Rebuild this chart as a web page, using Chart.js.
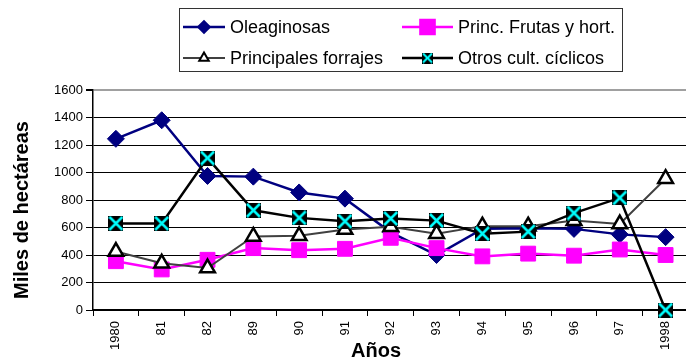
<!DOCTYPE html>
<html>
<head>
<meta charset="utf-8">
<script src="https://cdn.jsdelivr.net/npm/chart.js@4.4.1/dist/chart.umd.min.js"></script>
<style>
  html, body { margin: 0; padding: 0; background: #fff; overflow: hidden; }
  #wrap { width: 700px; height: 363px; }
</style>
</head>
<body>
<div id="wrap"><canvas id="chart" width="700" height="363"></canvas></div>
<script>
// ---- data ----
const years = ['1980', '81', '82', '89', '90', '91', '92', '93', '94', '95', '96', '97', '1998'];
const oleaginosas = [1245, 1380, 975, 970, 855, 810, 565, 400, 590, 595, 590, 550, 530];
const frutasHort = [355, 295, 365, 450, 435, 445, 525, 450, 390, 410, 395, 440, 400];
const forrajes = [425, 340, 305, 535, 540, 585, 605, 555, 610, 610, 650, 625, 955];
const otrosCiclicos = [630, 630, 1105, 725, 670, 645, 665, 650, 555, 570, 705, 815, 0];
const yTicks = [0, 200, 400, 600, 800, 1000, 1200, 1400, 1600];

const FONT = 'Arial, "Liberation Sans", sans-serif';

// black square with a cyan cross, like the Excel marker
function crossMarker(size) {
  const c = document.createElement('canvas');
  c.width = size; c.height = size;
  const g = c.getContext('2d');
  g.fillStyle = '#000';
  g.fillRect(0, 0, size, size);
  g.strokeStyle = '#00FFFF';
  g.lineWidth = size > 12 ? 2.5 : 2;
  g.beginPath();
  g.moveTo(1, 1); g.lineTo(size - 1, size - 1);
  g.moveTo(size - 1, 1); g.lineTo(1, size - 1);
  g.stroke();
  return c;
}
const bigCross = crossMarker(15);
const smallCross = crossMarker(11);

const series = [
  { label: 'Oleaginosas', data: oleaginosas, borderColor: '#000080', backgroundColor: '#000080',
    pointStyle: 'rectRot', pointRadius: 8.5, borderWidth: 2.5, pointBorderWidth: 1, order: 3,
    legend: { pointStyle: 'rectRot', radius: 5.5, col: 0, row: 0 } },
  { label: 'Princ. Frutas y hort.', data: frutasHort, borderColor: '#FF00FF', backgroundColor: '#FF00FF',
    pointStyle: 'rect', pointRadius: 10.5, borderWidth: 2.5, pointBorderWidth: 1, order: 2,
    legend: { pointStyle: 'rect', radius: 10, col: 1, row: 0 } },
  { label: 'Principales forrajes', data: forrajes, borderColor: '#404040', backgroundColor: '#fff',
    pointStyle: 'triangle', pointRadius: 8.5, borderWidth: 2, pointBorderColor: '#000', pointBorderWidth: 2.5, order: 1,
    legend: { pointStyle: 'triangle', radius: 5.5, col: 0, row: 1 } },
  { label: 'Otros cult. cíclicos', data: otrosCiclicos, borderColor: '#000', backgroundColor: '#000',
    pointStyle: bigCross, pointRadius: 8, borderWidth: 2.5, order: 0,
    legend: { pointStyle: smallCross, radius: 6, col: 1, row: 1 } }
];

// legend box + axis titles drawn on the canvas
const decorPlugin = {
  id: 'decor',
  afterDraw(chart) {
    const ctx = chart.ctx;
    ctx.save();
    // legend
    ctx.fillStyle = '#fff';
    ctx.fillRect(179, 8, 444, 64);
    ctx.strokeStyle = '#333';
    ctx.lineWidth = 1;
    ctx.strokeRect(179.5, 8.5, 443, 63);
    const cols = [{ x0: 183, x1: 225, text: 230 }, { x0: 402, x1: 453, text: 458 }];
    const rows = [27, 58];
    ctx.font = '18px ' + FONT;
    ctx.textBaseline = 'middle';
    ctx.textAlign = 'left';
    chart.data.datasets.forEach(ds => {
      const c = cols[ds.legend.col], y = rows[ds.legend.row];
      ctx.strokeStyle = ds.borderColor;
      ctx.lineWidth = ds.borderWidth;
      ctx.beginPath();
      ctx.moveTo(c.x0, y); ctx.lineTo(c.x1, y);
      ctx.stroke();
      ctx.fillStyle = ds.backgroundColor;
      ctx.strokeStyle = ds.pointBorderColor || ds.borderColor;
      Chart.helpers.drawPoint(ctx, {
        pointStyle: ds.legend.pointStyle, radius: ds.legend.radius,
        borderWidth: ds.pointBorderWidth || 1, rotation: 0
      }, (c.x0 + c.x1) / 2, y);
      ctx.fillStyle = '#000';
      ctx.fillText(ds.label, c.text, y + 1);
    });
    // axis titles
    ctx.font = 'bold 20px ' + FONT;
    ctx.textAlign = 'center';
    ctx.fillText('Años', 376, 351);
    ctx.translate(22, 210);
    ctx.rotate(-Math.PI / 2);
    ctx.fillText('Miles de hectáreas', 0, 0);
    ctx.restore();
  }
};

new Chart(document.getElementById('chart'), {
  type: 'line',
  data: {
    labels: years,
    datasets: series.map(s => ({
      label: s.label, data: s.data, order: s.order,
      borderColor: s.borderColor, backgroundColor: s.backgroundColor, borderWidth: s.borderWidth,
      pointStyle: s.pointStyle, pointRadius: s.pointRadius, pointHoverRadius: s.pointRadius,
      pointBackgroundColor: s.backgroundColor, pointBorderColor: s.pointBorderColor || s.borderColor,
      pointBorderWidth: s.pointBorderWidth || 1, tension: 0, clip: false,
      legend: s.legend
    }))
  },
  options: {
    responsive: false,
    animation: false,
    layout: { padding: { top: 90, right: 7, left: 0, bottom: 0 } },
    plugins: { legend: { display: false }, tooltip: { enabled: false } },
    scales: {
      x: {
        offset: true,
        grid: { offset: true, drawOnChartArea: false, drawTicks: true, tickLength: 6, color: '#000', lineWidth: 1 },
        border: { color: '#000', width: 2 },
        ticks: { color: '#000', font: { family: FONT, size: 13 }, minRotation: 90, maxRotation: 90, padding: 5, autoSkip: false },
        afterFit(scale) { scale.height = 53; }
      },
      y: {
        min: 0, max: 1600,
        afterBuildTicks(scale) { scale.ticks = yTicks.map(v => ({ value: v })); },
        grid: {
          color: ctx => (ctx.tick && ctx.tick.value === 1600 ? '#a0a0a0' : '#000'),
          lineWidth: ctx => (ctx.tick && ctx.tick.value === 1600 ? 2 : 1),
          tickColor: '#000', tickLength: 7
        },
        border: { color: '#000', width: 1.5 },
        ticks: { color: '#000', font: { family: FONT, size: 13 }, padding: 3, callback: v => String(v) },
        afterFit(scale) { scale.width = 93; }
      }
    }
  },
  plugins: [decorPlugin]
});
</script>
</body>
</html>
